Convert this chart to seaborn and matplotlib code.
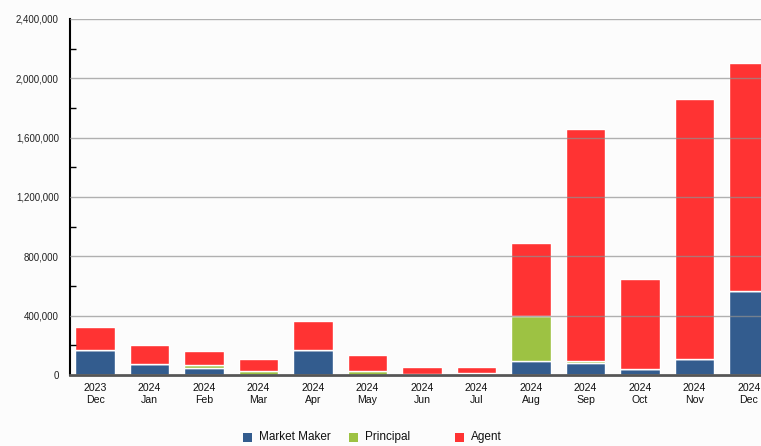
import matplotlib
matplotlib.use("Agg")
import matplotlib.pyplot as plt
import seaborn as sns
import numpy as np
from matplotlib.patches import Rectangle
from matplotlib.ticker import FuncFormatter, MultipleLocator

# monthly volumes by capacity
months = ["2023\nDec", "2024\nJan", "2024\nFeb", "2024\nMar", "2024\nApr", "2024\nMay",
          "2024\nJun", "2024\nJul", "2024\nAug", "2024\nSep", "2024\nOct", "2024\nNov",
          "2024\nDec"]
market_maker = [168000, 72000, 45000, 2000, 168000, 3000,
                3000, 8000, 96000, 83000, 40000, 108000, 566000]
principal = [0, 0, 24000, 27000, 0, 26000,
             7000, 8000, 300000, 9000, 0, 0, 0]
agent = [155000, 130000, 95000, 80000, 198000, 108000,
         44000, 38000, 494000, 1566000, 607000, 1753000, 1537000]

series_names = ["Market Maker", "Principal", "Agent"]
colors = ["#335c8e", "#9dc243", "#ff3333"]

sns.set_style("white")
plt.rcParams["font.family"] = ["Liberation Sans", "DejaVu Sans"]

fig = plt.figure(figsize=(7.61, 4.46), dpi=100)
fig.patch.set_facecolor("#fcfcfc")
ax = fig.add_axes([70 / 761, 71 / 446, 704 / 761, 356 / 446])
ax.set_facecolor("#fcfcfc")

bottom = np.zeros(len(months))
for vals, col in zip([market_maker, principal, agent], colors):
    sns.barplot(x=months, y=vals, bottom=bottom, color=col, width=0.72,
                edgecolor="white", linewidth=1, saturation=1, ax=ax, zorder=2)
    bottom = bottom + np.array(vals)

ax.set_xlim(-0.46, len(months) - 0.54)
ax.set_ylim(0, 2400000)
ax.yaxis.set_major_locator(MultipleLocator(400000))
ax.yaxis.set_minor_locator(MultipleLocator(200000))
ax.yaxis.set_major_formatter(FuncFormatter(lambda v, p: f"{int(v):,}"))
ax.grid(axis="y", which="major", color="#909090", linewidth=1, alpha=0.7, zorder=3)
ax.set_axisbelow(False)

ax.tick_params(axis="y", which="major", length=0, labelsize=7, pad=8, colors="#222222")
ax.tick_params(axis="y", which="minor", length=4, width=1, direction="in", color="black", left=True)
ax.tick_params(axis="x", length=0, labelsize=7.6, pad=6, colors="#111111")
for lbl in ax.get_xticklabels():
    lbl.set_horizontalalignment("center")
    lbl.set_multialignment("center")

for s in ["top", "right"]:
    ax.spines[s].set_visible(False)
ax.spines["left"].set_color("black")
ax.spines["left"].set_linewidth(1.5)
ax.spines["bottom"].set_color("#555555")
ax.spines["bottom"].set_linewidth(2)
ax.set_xlabel("")
ax.set_ylabel("")

# legend at the bottom, fixed-width columns
leg_x = [243, 349, 455]
for x0, name, col in zip(leg_x, series_names, colors):
    fig.patches.append(Rectangle((x0 / 761, (446 - 442) / 446), 9 / 761, 9 / 446,
                                 transform=fig.transFigure, facecolor=col,
                                 edgecolor="none"))
    fig.text((x0 + 16) / 761, (446 - 437) / 446, name, fontsize=8.5,
             va="center", ha="left", color="#111111")

fig.savefig("out.png", dpi=100, facecolor=fig.get_facecolor())
